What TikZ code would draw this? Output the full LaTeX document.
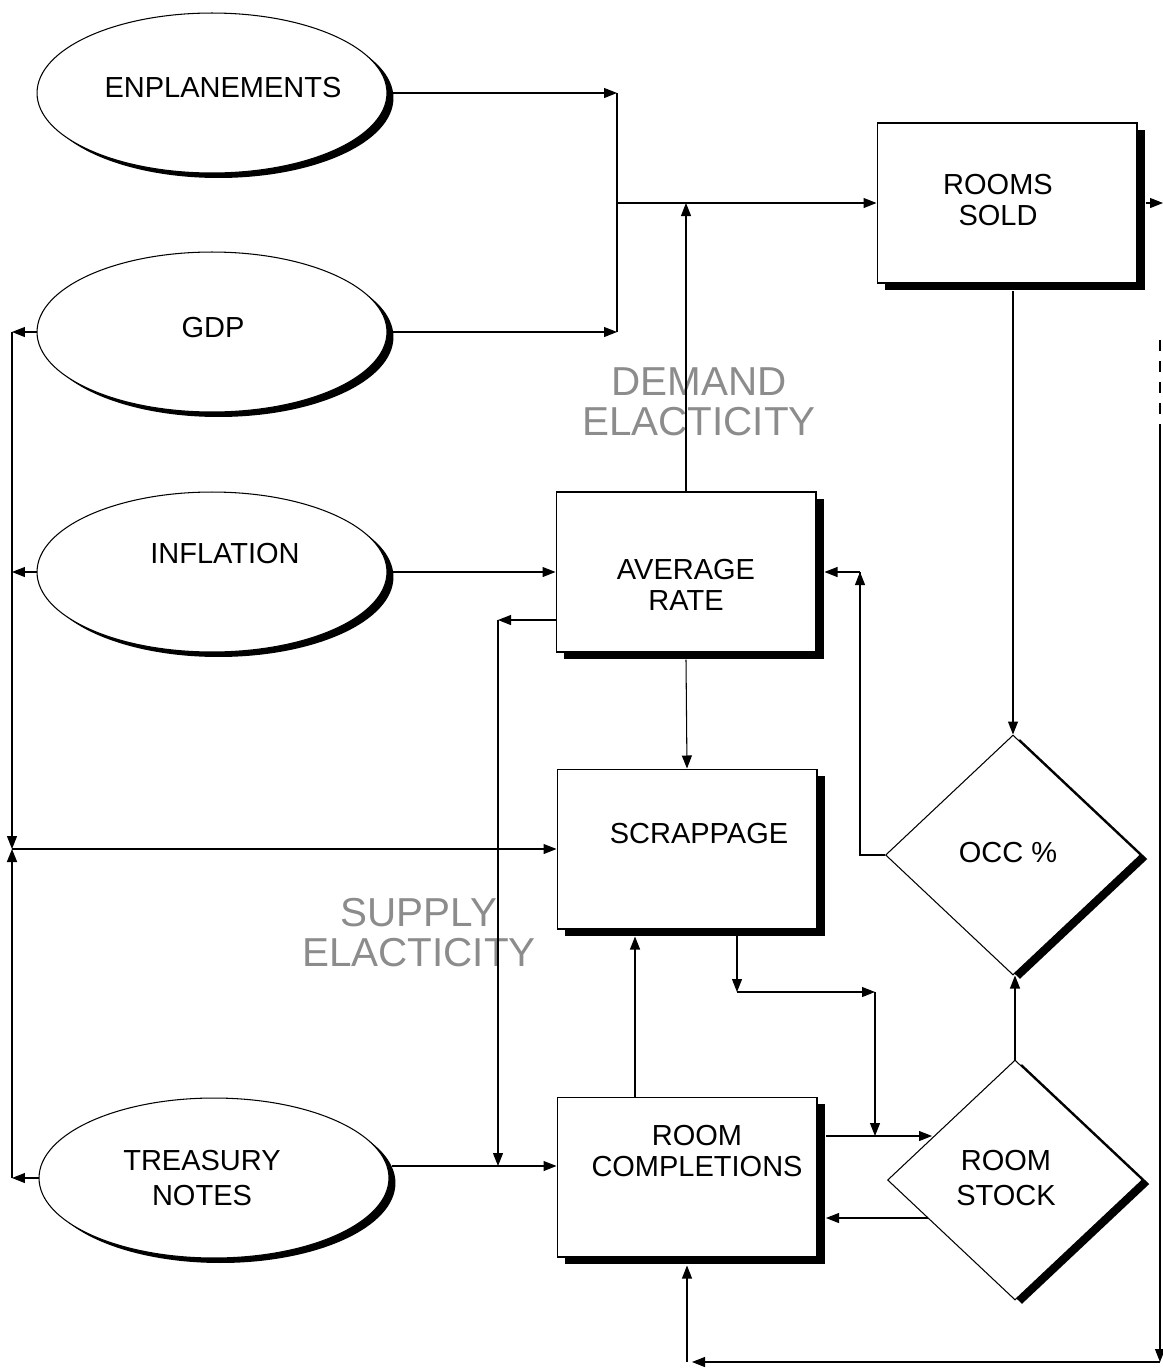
\documentclass[tikz,border=0pt]{standalone}
\usepackage{fontspec}
\setmainfont{Liberation Sans}
\usetikzlibrary{shapes.geometric,shadows,arrows.meta}
\begin{document}
\begin{tikzpicture}[x=0.02cm,y=-0.02cm,
  ln/.style={line width=0.6pt},
  arr/.style={ln,-{Triangle[length=0.26cm,width=0.2cm]}},
  box/.style={draw,line width=0.6pt,fill=white,minimum width=5.2cm,minimum height=3.2cm,inner sep=0,
    drop shadow={shadow xshift=0.16cm,shadow yshift=-0.14cm,fill=black,opacity=1}},
  oval/.style={ellipse,draw,line width=0.6pt,fill=white,inner sep=0,minimum width=7cm,minimum height=3.2cm,
    drop shadow={shadow xshift=0.13cm,shadow yshift=-0.1cm,fill=black,opacity=1}},
  dia/.style={diamond,draw,line width=0.6pt,fill=white,inner sep=0,minimum width=5.1cm,minimum height=4.8cm,
    drop shadow={shadow xshift=0.14cm,shadow yshift=-0.08cm,fill=black,opacity=1}},
  lbl/.style={font=\fontsize{16.5}{17.6}\selectfont,align=center,inner sep=0},
  ela/.style={font=\fontsize{23}{22.7}\selectfont,align=center,text=black!45,inner sep=0}
]
\useasboundingbox (0,0) rectangle (1163,1370);

% ellipses
\node[oval] (enp) at (212,93) {};
\node[oval] (gdp) at (212,332) {};
\node[oval] (inf) at (212,572) {};
\node[oval] (tre) at (214,1178) {};

% boxes
\node[box] (rs) at (1007,203) {};
\node[box] (ar) at (686,572) {};
\node[box] (sc) at (687,849) {};
\node[box] (rc) at (687,1177) {};

% diamonds
\node[dia] (occ) at (1013,855) {};
\node[dia] (rst) at (1015,1180) {};

% texts
\node[lbl] (tenp) at (223,88) {ENPLANEMENTS};
\node[lbl] (tgdp) at (213,328) {GDP};
\node[lbl] (tinf) at (225,554) {INFLATION};
\node[lbl] (ttre) at (202,1178) {TREASURY\\[2pt]NOTES};
\node[lbl] (trs) at (998,200) {ROOMS\\SOLD};
\node[lbl] (tar) at (686,585) {AVERAGE\\RATE};
\node[lbl] (tsc) at (699,834) {SCRAPPAGE};
\node[lbl] (trc) at (697,1151) {ROOM\\COMPLETIONS};
\node[lbl] (tocc) at (1008,853) {OCC \%};
\node[lbl] (trst) at (1006,1178) {ROOM\\[2pt]STOCK};
\node[ela] (dem) at (699,402) {DEMAND\\ELACTICITY};
\node[ela] (sup) at (419,933) {SUPPLY\\ELACTICITY};

% coordinates
\coordinate (j3) at (617,203);
\coordinate (rsout) at (1163,203);
\coordinate (rb1) at (1160,340);
\coordinate (rb2) at (1160,430);
\coordinate (rbc) at (1160,1362);
\coordinate (cA) at (860,572);
\coordinate (cB) at (498,620);
\coordinate (tR) at (392,1166);
\coordinate (Lx) at (12,849);
\coordinate (d1) at (737,992);
\coordinate (d2) at (875,992);
\coordinate (rcR) at (826,1136);
\coordinate (rsIn) at (932,1136);
\coordinate (rsOut) at (928,1218);
\coordinate (rcL) at (826,1218);

% top inputs to rooms sold
\draw[arr] (enp.east) -- (enp.east -| j3);
\draw[arr] (gdp.east) -- (gdp.east -| j3);
\draw[ln] (enp.east -| j3) -- (gdp.east -| j3);
\draw[arr] (j3) -- (rs.west);
\draw[arr] (ar.north) -- (ar.north |- j3);

% rooms sold outputs
\draw[arr] ([xshift=0.16cm]rs.east) -- (rsout);
\draw[ln,dash pattern=on 6pt off 6pt] (rb1) -- (rb2);
\draw[arr] (rb2) -- (rbc);
\draw[arr] (rbc) -- ([xshift=0.1cm]rc.south |- rbc);
\draw[arr] (rc.south |- rbc) -- ([yshift=-0.16cm]rc.south);
\draw[arr] ([yshift=-0.14cm]occ.north |- rs.south) -- (occ.north);

% occ to average rate
\draw[ln] (occ.west) -| (cA);
\draw[arr] (occ.west -| cA) -- (cA);
\draw[arr] (cA) -- ([xshift=0.16cm]ar.east);

% inflation to average rate
\draw[arr] (inf.east) -- (ar.west);

% average rate to room completions line
\draw[arr] (ar.west |- cB) -- (cB);
\draw[arr] (cB) -- (cB |- tR);

% treasury to room completions
\draw[arr] (tR) -- (rc.west |- tR);

% average rate to scrappage
\draw[arr] ([yshift=-0.14cm]ar.south) -- (sc.north);

% left side
\draw[arr] (gdp.west) -- (gdp.west -| Lx);
\draw[arr] (inf.west) -- (inf.west -| Lx);
\draw[arr] (tre.west) -- (tre.west -| Lx);
\draw[arr] (gdp.west -| Lx) -- (Lx);
\draw[arr,line width=1pt] (tre.west -| Lx) -- (Lx);
\draw[arr] (Lx) -- (sc.west);

% room completions to scrappage
\draw[arr] ([xshift=-1.04cm]rc.north) -- ([xshift=-1.04cm,yshift=-0.14cm]sc.south);

% scrappage to room stock
\draw[arr] (sc.south -| d1) -- (d1);
\draw[arr] (d1) -- (d2);
\draw[arr] (d2) -- (d2 |- rcR);
\draw[arr] (rcR) -- (rsIn);
\draw[arr] (rsOut) -- (rcL);

% room stock to occ
\draw[arr] (rst.north) -- (rst.north |- occ.south);
\end{tikzpicture}
\end{document}
